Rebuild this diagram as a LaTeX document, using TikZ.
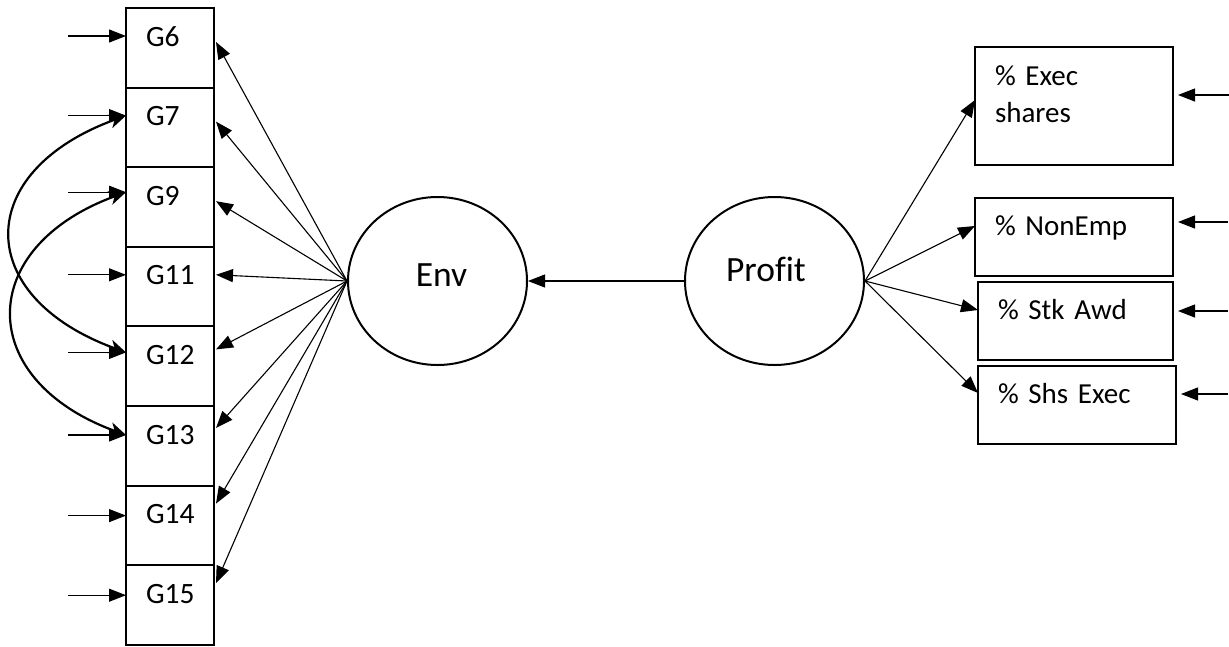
\documentclass[tikz,border=0pt]{standalone}
\usepackage{fontspec}
\setmainfont[Ligatures=NoCommon,WordSpace=0.75]{Carlito}
\usetikzlibrary{arrows.meta,positioning,shapes.geometric}

\tikzset{
  ind/.style={draw, line width=2pt, rectangle, outer sep=0pt, inner xsep=20pt, inner ysep=0pt,
    text width=48pt, align=left, text height=38pt, text depth=41.6pt, font=\fontsize{29.5}{34}\selectfont},
  rbox/.style={draw, line width=2pt, rectangle, outer sep=0pt, inner xsep=20pt, inner ysep=0pt,
    text width=158pt, align=left, text height=37pt, text depth=41pt, font=\fontsize{29}{37}\selectfont},
  latent/.style={draw, ellipse, line width=2pt, inner sep=0pt, minimum width=179pt, minimum height=168pt,
    font=\fontsize{35.5}{40}\selectfont},
  tip/.style={-{Triangle[length=17pt,width=13pt]}, line width=1.1pt},
  cov/.style={{Stealth[length=17pt,width=14pt,inset=5pt]}-{Stealth[length=17pt,width=14pt,inset=5pt]}, line width=2.2pt}
}

\begin{document}
\begin{tikzpicture}[x=1pt,y=1pt]
\useasboundingbox (0,0) rectangle (1229,-646);
% Env indicators
\node[ind, anchor=north west] (g6) at (126,-8) {G6};
\node[ind, below=0pt of g6] (g7) {G7};
\node[ind, below=0pt of g7] (g9) {G9};
\node[ind, below=0pt of g9] (g11) {G11};
\node[ind, below=0pt of g11] (g12) {G12};
\node[ind, below=0pt of g12] (g13) {G13};
\node[ind, below=0pt of g13] (g14) {G14};
\node[ind, below=0pt of g14] (g15) {G15};
% latent variables
\node[latent, text height=20pt, text depth=10pt] (env) at (437.5,-281) {\kern8pt Env};
\node[latent, text height=15pt, text depth=15pt] (profit) at (774.5,-281) {Profit\kern17pt};
% Profit indicators
\node[rbox, anchor=north west, text height=38pt, text depth=80pt] (exec) at (975,-47) {\% Exec\\shares};
\node[rbox, below=33pt of exec.south west, anchor=north west] (nonemp) {\% NonEmp};
\node[rbox, below=6pt of nonemp.south west, anchor=north west, xshift=3pt, text width=155pt] (stk) {\% Stk Awd};
\node[rbox, below=6pt of stk.south west, anchor=north west] (shs) {\% Shs Exec};

% error terms
\foreach \g/\dy in {g6/28, g7/28, g9/25, g11/28, g12/26, g13/29, g14/30, g15/30}
  \draw[tip] ([xshift=-58pt,yshift=-\dy pt]\g.north west) -- ([yshift=-\dy pt]\g.north west);
\foreach \r/\dy/\dx in {exec/48/56, nonemp/24/55, stk/29/55, shs/28/52}
  \draw[tip] ([xshift=\dx pt,yshift=-\dy pt]\r.north east) -- ([xshift=5pt,yshift=-\dy pt]\r.north east);

% loadings
\foreach \g/\dy in {g6/34, g7/34, g9/34, g11/28, g12/23, g13/22, g14/18, g15/18}
  \draw[tip] (env.west) -- ([xshift=2pt,yshift=-\dy pt]\g.north east);
\foreach \r/\dy in {exec/53, nonemp/28, stk/28, shs/27}
  \draw[tip] (profit.east) -- ([yshift=-\dy pt]\r.north west);
\draw[tip] (profit.west) -- (env.east);

% correlated errors
\draw[cov] ([yshift=-28pt]g7.north west) to[out=200,in=160,looseness=1.77] ([yshift=-26pt]g12.north west);
\draw[cov] ([yshift=-25pt]g9.north west) to[out=200,in=160,looseness=1.70] ([yshift=-29pt]g13.north west);
\end{tikzpicture}
\end{document}
